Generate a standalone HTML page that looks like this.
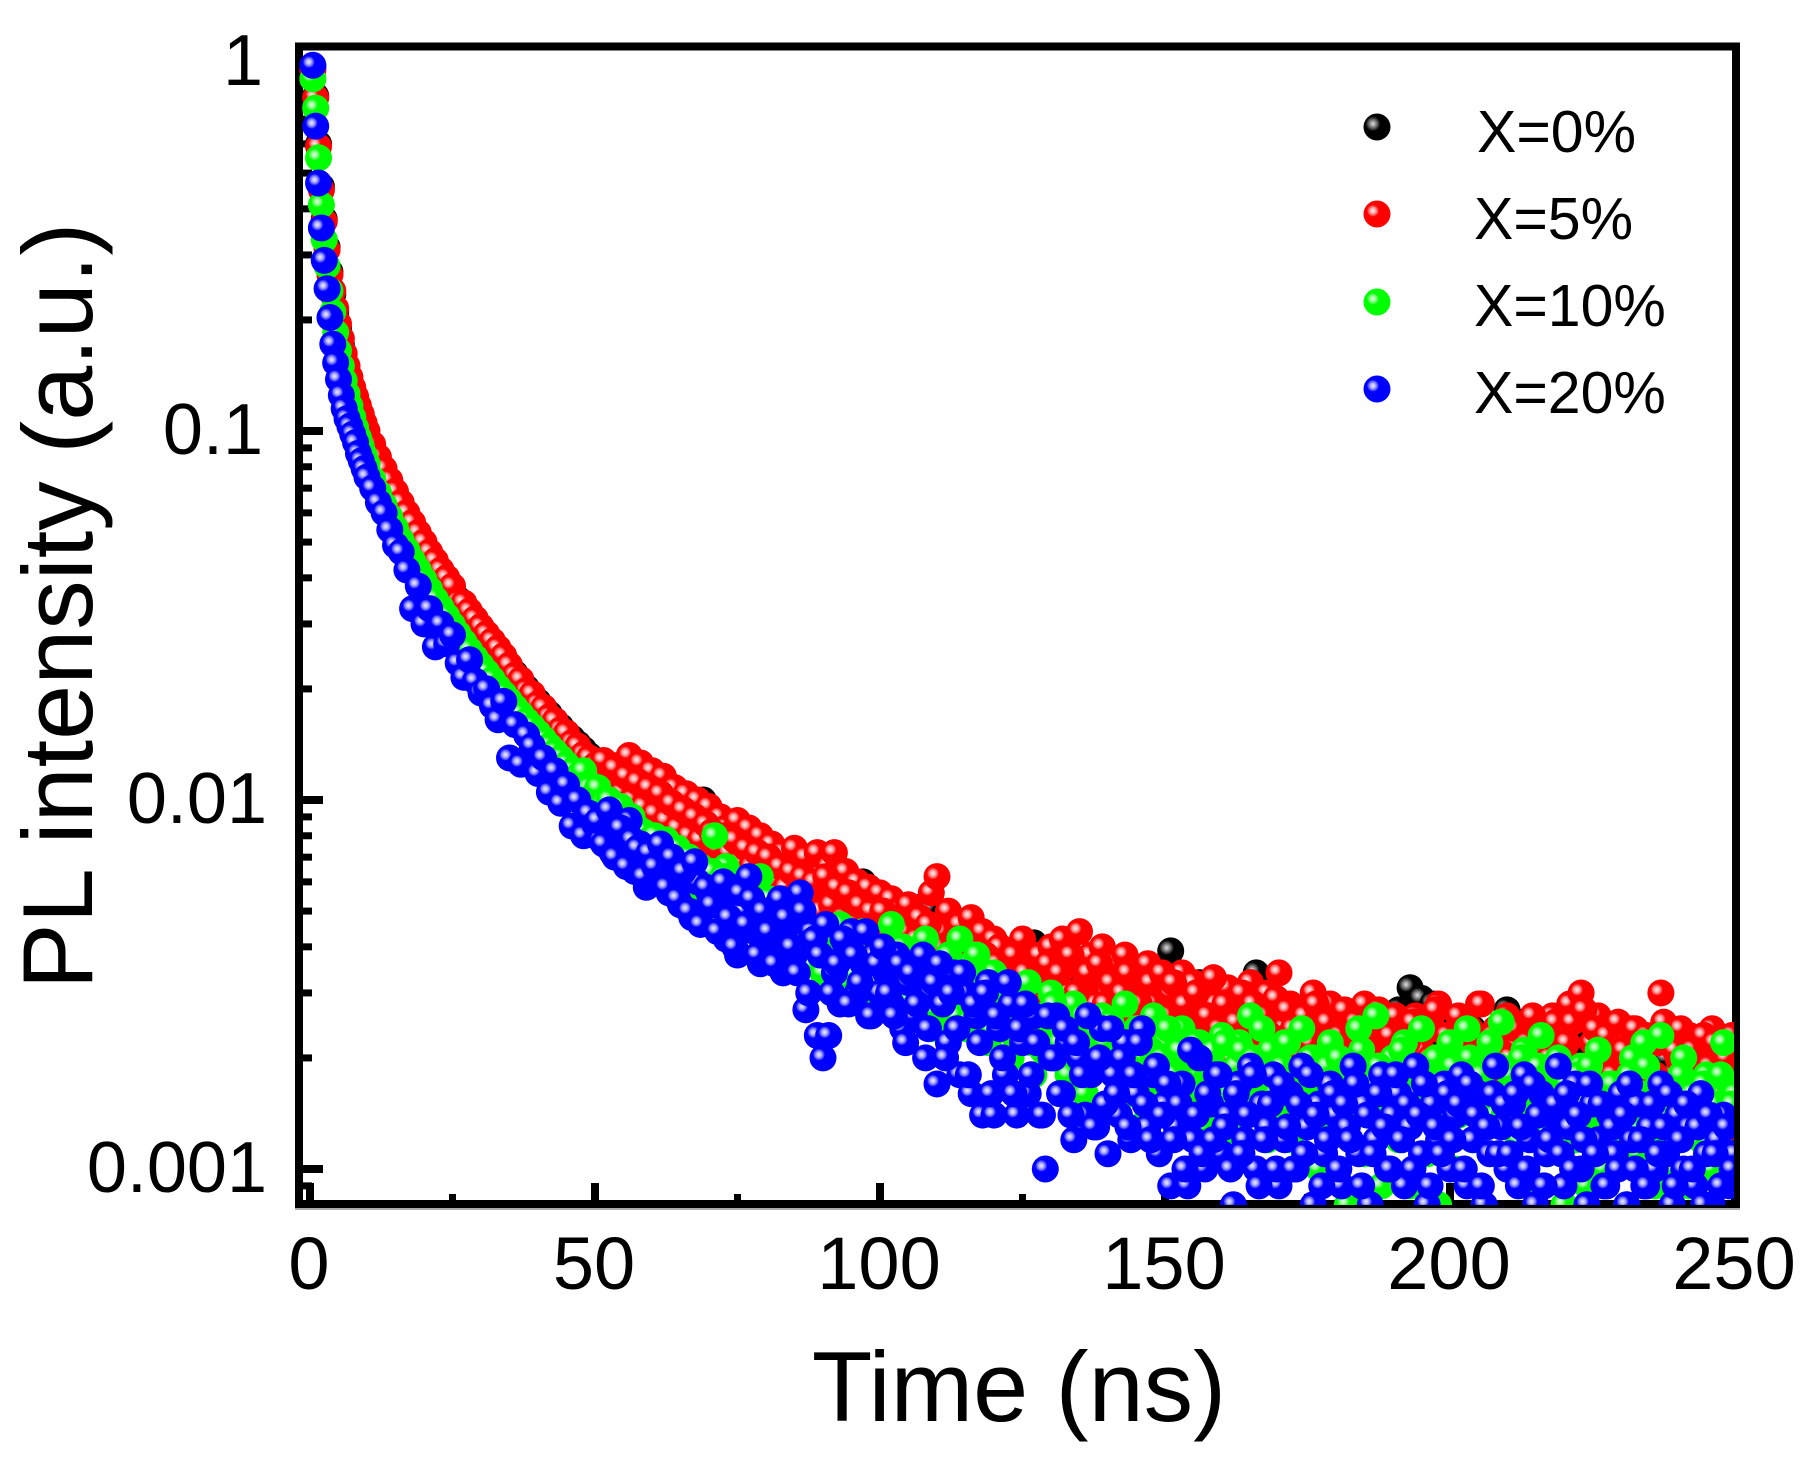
<!DOCTYPE html>
<html lang="en">
<head>
<meta charset="utf-8">
<title>PL intensity decay</title>
<style>
html,body{margin:0;padding:0;background:#fff;}
svg{display:block;}
text{font-family:"Liberation Sans",sans-serif;fill:#000;}
</style>
</head>
<body>
<svg id="chart" xmlns="http://www.w3.org/2000/svg" width="1808" height="1463" viewBox="0 0 1808 1463">
<defs>
<radialGradient id="ball-black" cx=".35" cy=".38" r=".5"><stop offset="0" stop-color="#dddddd"/><stop offset=".15" stop-color="#aaaaaa"/><stop offset=".32" stop-color="#666666"/><stop offset=".55" stop-color="#000000"/></radialGradient>
<radialGradient id="ball-red" cx=".35" cy=".38" r=".5"><stop offset="0" stop-color="#ffe8e8"/><stop offset=".15" stop-color="#ffc0c0"/><stop offset=".3" stop-color="#ff7070"/><stop offset=".45" stop-color="#ff0000"/></radialGradient>
<radialGradient id="ball-green" cx=".35" cy=".38" r=".5"><stop offset="0" stop-color="#e0ffe0"/><stop offset=".15" stop-color="#b0ffb0"/><stop offset=".3" stop-color="#60ff60"/><stop offset=".45" stop-color="#00ff00"/></radialGradient>
<radialGradient id="ball-blue" cx=".35" cy=".38" r=".5"><stop offset="0" stop-color="#e8e8ff"/><stop offset=".15" stop-color="#c0c0ff"/><stop offset=".3" stop-color="#7070ff"/><stop offset=".45" stop-color="#0000ff"/></radialGradient>
<clipPath id="plot-clip"><rect x="295" y="43" width="1439" height="1162"/></clipPath>
</defs>
<rect x="0" y="0" width="1808" height="1463" fill="#fff"/>
<rect x="295" y="1208" width="1445" height="2" fill="#aaa"/>
<rect x="299" y="46.5" width="1437" height="1157.5" fill="none" stroke="#000" stroke-width="8"/>
<g id="ticks"></g>
<g id="tick-labels"></g>
<g id="series" clip-path="url(#plot-clip)"></g>
<g id="legend"></g>
<text x="1019" y="1421" font-size="99" text-anchor="middle">Time (ns)</text>
<text transform="translate(92,606) rotate(-90)" font-size="99" text-anchor="middle">PL intensity (a.u.)</text>
</svg>
<script>
const timeNs = [0.5,1,1.5,2,2.5,3,3.5,4,4.5,5,5.5,6,6.5,7,7.5,8,8.5,9,9.5,10,
11,12,13,14,15,16,17,18,19,20,21,22,23,24,25,26,27,28,29,30,
31,32,33,34,35,36,37,38,39,40,41,42,43,44,45,46,47,48,49,50,
51,52,53,54,55,56,57,58,59,60,61,62,63,64,65,66,67,68,69,70,
71,72,73,74,75,76,77,78,79,80,81,82,83,84,85,86,87,88,89,90,
91,92,93,94,95,96,97,98,99,100,101,102,103,104,105,106,107,108,109,110,
111,112,113,114,115,116,117,118,119,120,121,122,123,124,125,126,127,128,129,130,
131,132,133,134,135,136,137,138,139,140,141,142,143,144,145,146,147,148,149,150,
151,152,153,154,155,156,157,158,159,160,161,162,163,164,165,166,167,168,169,170,
171,172,173,174,175,176,177,178,179,180,181,182,183,184,185,186,187,188,189,190,
191,192,193,194,195,196,197,198,199,200,201,202,203,204,205,206,207,208,209,210,
211,212,213,214,215,216,217,218,219,220,221,222,223,224,225,226,227,228,229,230,
231,232,233,234,235,236,237,238,239,240,241,242,243,244,245,246,247,248,249,250];

const timeNsHalf = [50.5,51.5,52.5,53.5,54.5,55.5,56.5,57.5,58.5,59.5,60.5,61.5,62.5,63.5,64.5,65.5,66.5,67.5,68.5,69.5,
70.5,71.5,72.5,73.5,74.5,75.5,76.5,77.5,78.5,79.5,80.5,81.5,82.5,83.5,84.5,85.5,86.5,87.5,88.5,89.5,
90.5,91.5,92.5,93.5,94.5,95.5,96.5,97.5,98.5,99.5,100.5,101.5,102.5,103.5,104.5,105.5,106.5,107.5,108.5,109.5,
110.5,111.5,112.5,113.5,114.5,115.5,116.5,117.5,118.5,119.5,120.5,121.5,122.5,123.5,124.5,125.5,126.5,127.5,128.5,129.5,
130.5,131.5,132.5,133.5,134.5,135.5,136.5,137.5,138.5,139.5,140.5,141.5,142.5,143.5,144.5,145.5,146.5,147.5,148.5,149.5,
150.5,151.5,152.5,153.5,154.5,155.5,156.5,157.5,158.5,159.5,160.5,161.5,162.5,163.5,164.5,165.5,166.5,167.5,168.5,169.5,
170.5,171.5,172.5,173.5,174.5,175.5,176.5,177.5,178.5,179.5,180.5,181.5,182.5,183.5,184.5,185.5,186.5,187.5,188.5,189.5,
190.5,191.5,192.5,193.5,194.5,195.5,196.5,197.5,198.5,199.5,200.5,201.5,202.5,203.5,204.5,205.5,206.5,207.5,208.5,209.5,
210.5,211.5,212.5,213.5,214.5,215.5,216.5,217.5,218.5,219.5,220.5,221.5,222.5,223.5,224.5,225.5,226.5,227.5,228.5,229.5,
230.5,231.5,232.5,233.5,234.5,235.5,236.5,237.5,238.5,239.5,240.5,241.5,242.5,243.5,244.5,245.5,246.5,247.5,248.5,249.5];

const countsBlack = [9700,8100,6000,4600,3750,3150,2700,2350,2100,1900,1720,1560,1440,1340,1250,1180,1110,1050,1000,950,
900,830,770,715,665,620,585,550,515,490,
460,435,410,390,370,350,335,318,303,288,
275,263,252,240,230,220,210,201,193,185,
178,171,164,158,152,147,142,137,132,128,
123,119,116,112,109,106,103,118,100,112,
98,112,94,104,90,98,86,96,100,90,
90,84,78,74,82,70,78,68,74,66,
72,64,68,62,68,60,66,58,64,56,
62,58,54,60,52,56,60,50,54,48,
46,50,44,48,42,46,44,52,51,40,
42,38,44,36,42,34,40,33,38,35,
36,32,38,30,36,34,41,32,36,30,
32,28,34,30,36,27,33,26,32,28,
30,26,32,25,30,24,28,26,30,27,
39,26,22,28,24,32,25,21,28,23,
26,21,28,24,30,34,22,26,20,28,
22,26,19,24,21,27,18,23,25,17,
24,20,22,26,18,26,21,25,16,22,
27,20,31,25,29,22,28,24,26,18,
18,22,16,24,20,17,22,19,24,27,
20,25,18,22,16,24,19,21,25,20,
24,20,26,24,21,22,24,18,22,16,
20,17,22,15,19,17,22,20,18,16,
18,14,20,16,19,14,17,15,13,13];

const countsRed = [9500,8000,5900,4500,3700,3100,2650,2400,2150,1950,1780,1620,1500,1400,1310,1240,1170,1110,1050,1000,
920,850,790,735,685,640,600,565,530,500,
470,445,420,400,380,345,342,325,310,295,
282,270,258,246,232,218,212,198,194,182,
178,168,164,155,152,143,140,133,130,124,
122,118,114,124,112,132,108,126,104,120,
100,116,96,108,92,104,88,100,84,96,
80,90,84,76,88,72,84,70,80,68,
76,66,72,64,74,62,70,60,72,58,
66,72,56,64,54,60,52,58,50,56,
48,54,50,46,52,44,48,42,56,62,
44,50,40,46,38,48,36,44,34,42,
40,34,38,32,42,36,30,38,34,40,
33,42,30,36,44,32,38,28,40,30,
36,27,38,30,34,26,36,28,32,25,
30,24,34,26,32,22,30,25,28,21,
31,23,28,20,32,26,24,30,21,34,
24,28,20,26,22,30,19,24,28,18,
26,21,24,18,28,22,19,26,17,24,
20,23,17,26,21,18,24,28,16,22,
19,25,17,23,28,20,16,24,18,26,
15,22,19,24,17,21,15,26,19,23,
28,18,30,16,22,26,17,20,15,23,
19,24,16,21,14,18,30,22,16,20,
15,23,18,14,21,24,16,19,13,20];

const countsRedHalf = [118,128,110,122,104,116,100,112,96,108,
92,104,88,98,84,94,80,90,78,86,
82,74,80,72,78,68,74,66,72,62,
70,60,66,58,64,56,62,54,60,50,
62,52,58,48,56,46,52,44,50,42,
50,42,46,40,44,38,42,36,46,34,
40,34,38,42,32,36,30,34,38,30,
36,28,32,38,26,34,28,32,26,36,
28,34,26,38,30,24,34,26,36,28,
32,24,30,34,26,28,23,32,25,34,
26,32,22,28,24,30,21,26,33,24,
28,20,25,30,22,28,19,26,23,29,
21,27,24,18,26,22,28,20,25,19,
23,27,20,25,18,24,21,27,19,23,
26,19,22,25,17,24,20,27,18,23,
22,26,18,24,20,28,17,23,21,25,
20,24,17,22,26,18,23,20,25,17,
22,25,19,27,17,24,20,23,18,25,
21,17,24,19,23,16,22,25,17,21,
24,18,21,16,23,19,22,15,20,23];

const countsGreen = [9000,7500,5500,4100,3300,2800,2400,2100,1850,1650,1500,1370,1260,1170,1090,1020,960,905,860,815,
740,680,630,585,545,505,475,445,420,395,
372,350,332,315,298,282,268,255,243,232,
222,212,202,194,186,178,171,164,158,152,
146,140,135,130,125,120,116,120,108,104,
100,97,94,90,87,85,82,79,77,75,
72,70,74,66,68,62,64,58,60,56,
80,58,66,52,56,48,54,46,62,44,
50,42,48,40,52,38,46,36,44,34,
42,36,46,32,40,30,44,34,38,28,
36,46,30,40,28,34,26,42,24,36,
30,38,26,42,24,36,38,28,22,34,
26,30,20,28,24,32,18,26,22,30,
20,26,18,28,22,16,24,20,26,15,
22,18,28,16,24,20,14,26,18,22,
16,20,24,14,18,22,13,20,16,23,
12,18,22,14,26,16,24,12,20,15,
22,12,18,24,14,20,10,16,22,13,
19,8,15,24,11,17,26,9,14,20,
12,22,9,16,24,11,18,8,14,22,
10,16,24,12,19,8,22,14,25,10,
18,12,21,9,16,23,11,14,20,8,
16,12,19,9,14,21,10,17,12,15,
8,20,11,22,14,9,23,16,10,13,
20,9,15,12,18,10,14,22,17,16];

const countsGreenHalf = [108,98,100,92,96,86,90,84,82,78,
80,74,78,70,74,66,70,62,66,60,
64,56,62,54,60,52,58,50,54,48,
54,46,50,44,48,42,46,40,44,38,
44,38,42,36,40,34,38,33,36,32,
38,32,36,30,34,29,33,28,32,27,
33,28,32,26,30,25,34,27,30,24,
30,24,28,23,26,28,22,26,21,25,
28,22,25,21,24,26,20,24,19,22,
25,20,23,19,22,24,18,21,17,20,
24,18,21,17,20,22,16,19,21,18,
22,16,19,21,17,20,15,18,21,16,
19,22,16,18,15,20,17,14,19,16,
20,15,18,16,21,14,17,19,15,18,
17,21,15,18,14,19,16,20,14,17,
19,14,17,20,15,18,13,16,19,14,
18,15,20,13,17,19,14,16,18,15,
17,13,18,15,19,14,16,12,17,14,
15,18,13,16,19,12,17,14,16,13,
18,13,16,14,17,12,15,18,13,15];

const countsBlue = [9800,6700,4700,3550,2900,2430,2030,1720,1530,1380,1250,1150,1080,1030,980,930,870,830,790,750,
700,640,600,540,490,470,420,330,380,300,
330,260,300,265,280,235,215,240,210,195,
200,180,165,185,130,160,125,150,140,118,
130,105,120,98,110,85,100,80,92,86,
78,90,72,82,68,88,64,76,58,70,
62,72,56,66,52,62,48,60,50,56,
46,54,42,58,38,50,62,44,36,48,
42,52,34,46,38,56,27,44,23,20,
23,34,28,40,44,30,36,26,38,30,
34,28,38,24,32,26,36,20,30,17,
28,22,34,18,30,16,26,14,32,14,
24,18,28,14,22,16,26,14,10,20,
26,16,22,12,20,14,18,13,24,11,
18,14,22,12,16,24,13,18,11,15,
9,13,17,9,12,20,10,15,18,11,
14,8,17,12,19,10,15,13,18,9,
12,16,10,19,13,8,15,11,17,14,
9,13,19,11,15,8,12,18,10,14,
16,9,13,19,11,8,15,12,17,10,
14,18,9,12,16,8,11,19,13,10,
15,9,18,12,8,16,11,14,19,9,
13,17,10,8,15,12,9,14,11,16,
8,12,15,9,13,10,17,11,8,14,
10,13,9,16,11,8,12,14,9,11];

const countsBlueHalf = [88,76,94,70,84,66,78,74,62,72,
66,76,58,70,54,64,50,68,46,58,
52,44,60,48,40,56,46,54,38,50,
44,36,54,48,40,34,50,30,42,38,
46,30,36,42,28,38,32,44,26,36,
40,30,26,36,22,34,28,38,24,32,
36,20,30,24,34,18,28,22,30,16,
26,20,32,16,24,28,18,22,14,26,
20,16,24,14,22,18,26,13,20,15,
24,16,20,13,18,22,15,12,19,14,
17,12,15,10,21,14,11,16,12,18,
13,10,16,11,14,18,9,12,15,10,
17,13,10,15,11,18,14,9,12,16,
10,15,12,17,9,14,11,16,13,10,
18,12,15,10,14,17,9,13,11,16,
12,15,10,17,14,9,13,16,11,15,
11,16,13,10,17,14,9,12,15,11,
16,10,14,12,17,11,15,9,13,10,
14,17,10,12,9,15,11,13,16,9,
12,15,10,13,8,14,11,9,13,10];

const seriesLabels = ["X=0%","X=5%","X=10%","X=20%"];
const xTickValues = [0,50,100,150,200,250];
const xMinorTickValues = [25,75,125,175,225];
const yTickValues = [1,0.1,0.01,0.001];
const yTickLabels = ["1","0.1","0.01","0.001"];
const yMinorMultipliers = [2,3,4,5,6,7,8,9];
const countsAtUnity = 10000;

const SVG_NS = "http://www.w3.org/2000/svg";
const xScale = function (t) { return 310 + 5.7 * t; };
const yScale = function (v) { return 431 + 369 * (-1 - Math.log10(v)); };
const MARKER_R = 13.5;

function make(tag, attrs, parent) {
  const el = document.createElementNS(SVG_NS, tag);
  Object.keys(attrs).forEach(function (k) { el.setAttribute(k, attrs[k]); });
  parent.appendChild(el);
  return el;
}

const ticksGroup = document.getElementById("ticks");
const labelsGroup = document.getElementById("tick-labels");
const seriesGroup = document.getElementById("series");
const legendGroup = document.getElementById("legend");

xTickValues.forEach(function (t) {
  const tick = make("rect", { x: xScale(t) - 4, y: 1183, width: 8, height: 18, fill: "#000" }, ticksGroup);
  
  
  const label = make("text", { x: xScale(t) - 1, y: 1289, "font-size": 74, "text-anchor": "middle" }, labelsGroup);
  
  
  label.textContent = String(t);
});
xMinorTickValues.forEach(function (t) {
  const tick = make("rect", { x: xScale(t) - 3.5, y: 1194, width: 7, height: 7, fill: "#000" }, ticksGroup);
  
  
});
yTickValues.forEach(function (v, i) {
  const tick = make("rect", { x: 302, y: yScale(v) - 4, width: 21, height: 8, fill: "#000" }, ticksGroup);
  
  
  const labelRight = yTickLabels[i].length > 3 ? 267 : 263;
  const label = make("text", { x: labelRight, y: yScale(v) + 23, "font-size": 72, "text-anchor": "end" }, labelsGroup);
  
  
  label.textContent = yTickLabels[i];
  yMinorMultipliers.forEach(function (m) {
    const value = v * m;
    if (value >= 1) { return; }
    const minor = make("rect", { x: 302, y: yScale(value) - 3.5, width: 10, height: 7, fill: "#000" }, ticksGroup);
    
    
  });
});
const lowMinor = make("rect", { x: 302, y: yScale(0.0009) - 3.5, width: 10, height: 7, fill: "#000" }, ticksGroup);



function drawPoints(group, times, counts, gradientId) {
  counts.forEach(function (c, i) {
    const point = make("circle", {
      cx: xScale(times[i]),
      cy: yScale(c / countsAtUnity),
      r: MARKER_R,
      fill: "url(#" + gradientId + ")"
    }, group);
    
    
  });
}
const blackGroup = make("g", {}, seriesGroup);


drawPoints(blackGroup, timeNs, countsBlack, "ball-black");
const redGroup = make("g", {}, seriesGroup);


drawPoints(redGroup, timeNs, countsRed, "ball-red");
drawPoints(redGroup, timeNsHalf, countsRedHalf, "ball-red");
const greenGroup = make("g", {}, seriesGroup);


drawPoints(greenGroup, timeNs, countsGreen, "ball-green");
drawPoints(greenGroup, timeNsHalf, countsGreenHalf, "ball-green");
const blueGroup = make("g", {}, seriesGroup);


drawPoints(blueGroup, timeNs, countsBlue, "ball-blue");
drawPoints(blueGroup, timeNsHalf, countsBlueHalf, "ball-blue");

const legendGradients = ["ball-black","ball-red","ball-green","ball-blue"];
const legendMarkerRows = [127,214,302,389];
const legendTextRows = [152,239,326,413];
const legendTextStarts = [1477,1474,1474,1474];
seriesLabels.forEach(function (name, i) {
  const marker = make("circle", { cx: 1377, cy: legendMarkerRows[i], r: MARKER_R, fill: "url(#" + legendGradients[i] + ")" }, legendGroup);
  
  
  const text = make("text", { x: legendTextStarts[i], y: legendTextRows[i], "font-size": 59 }, legendGroup);
  
  
  text.textContent = name;
});
</script>
</body>
</html>
